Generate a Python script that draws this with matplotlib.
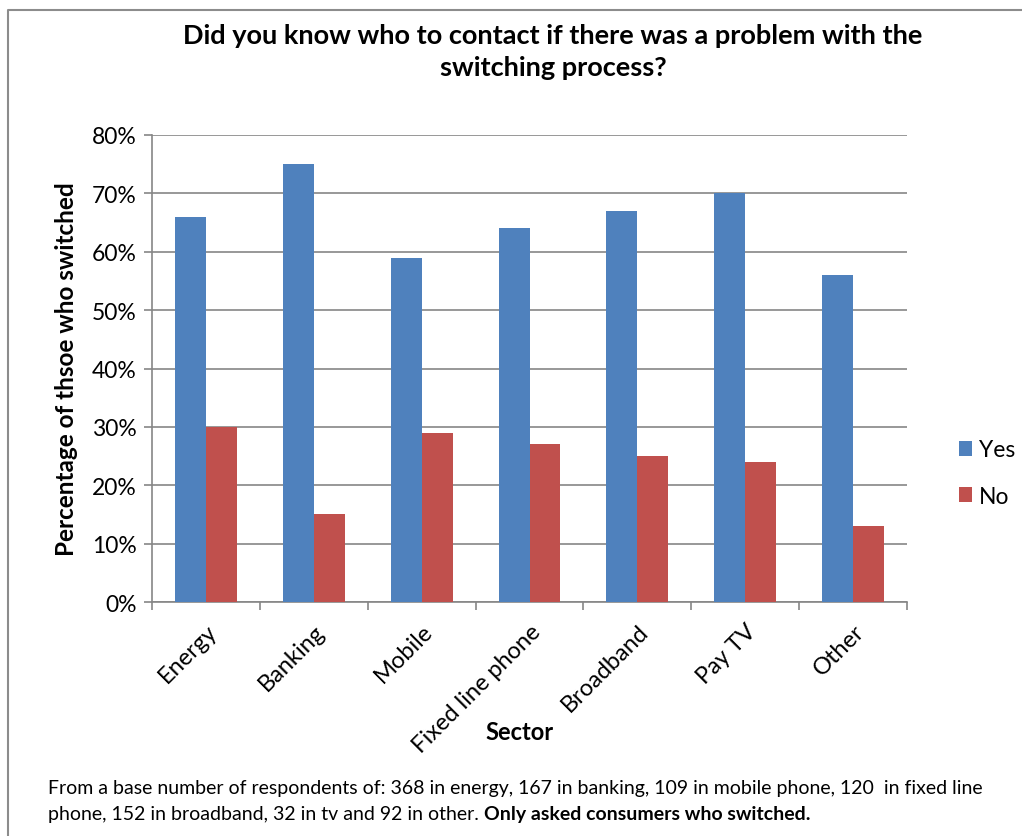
import numpy as np
import matplotlib.pyplot as plt
from matplotlib.lines import Line2D
from matplotlib.ticker import FixedLocator, PercentFormatter

plt.rcParams['font.family'] = ['Lato', 'DejaVu Sans']

sectors = ["Energy", "Banking", "Mobile", "Fixed line phone", "Broadband", "Pay TV", "Other"]
yes = [66, 75, 59, 64, 67, 70, 56]
no = [30, 15, 29, 27, 25, 24, 13]

blue = "#4F81BD"
red = "#C0504D"
grid = "#868686"

fig = plt.figure(figsize=(10.22, 8.37), dpi=100)
W, H = 1022, 837
ax = fig.add_axes([152 / W, 1 - 603 / H, (907 - 152) / W, (603 - 136) / H])

x = np.arange(len(sectors))
w = 0.287
ax.bar(x - w / 2, yes, w, color=blue, label="Yes", zorder=3)
ax.bar(x + w / 2, no, w, color=red, label="No", zorder=3)

ax.set_xlim(-0.5, len(sectors) - 0.5)
ax.set_ylim(0, 80)
ax.yaxis.set_major_locator(FixedLocator(np.arange(0, 81, 10)))
ax.yaxis.set_major_formatter(PercentFormatter(decimals=0))
ax.grid(axis="y", color=grid, linewidth=1.2, zorder=0)

ax.set_xticks(x)
ax.set_xticklabels(sectors, rotation=45, ha="right", rotation_mode="anchor", fontsize=17)
ax.tick_params(axis="x", which="major", length=0, pad=13)
ax.set_xticks(np.arange(-0.5, len(sectors)), minor=True)
ax.tick_params(axis="x", which="minor", length=6, color=grid, width=1.2)
ax.tick_params(axis="y", length=6, color=grid, width=1.2, labelsize=16.5, pad=5)

for s in ["top", "right"]:
    ax.spines[s].set_visible(False)
for s in ["left", "bottom"]:
    ax.spines[s].set_color(grid)
    ax.spines[s].set_linewidth(1.2)

ax.set_ylabel("Percentage of thsoe who switched", fontsize=17.5, fontweight="bold", labelpad=10)
fig.text(520 / W, 1 - 733 / H, "Sector", fontsize=17, fontweight="bold", ha="center", va="center")

fig.text(553 / W, 1 - 52 / H,
         "Did you know who to contact if there was a problem with the\nswitching process?",
         fontsize=19.5, fontweight="bold", ha="center", va="center", linespacing=1.35)

ax.legend(loc="center left", bbox_to_anchor=(938 / W, 1 - 474 / H), bbox_transform=fig.transFigure,
          frameon=False, fontsize=16.5, handlelength=0.6, handleheight=0.6, handletextpad=0.3,
          labelspacing=1.1)

fig.text(48 / W, 1 - 789 / H,
         "From a base number of respondents of: 368 in energy, 167 in banking, 109 in mobile phone, 120  in fixed line",
         fontsize=14, va="center", ha="left")
t2 = fig.text(48 / W, 1 - 815 / H,
              "phone, 152 in broadband, 32 in tv and 92 in other. ",
              fontsize=14, va="center", ha="left")
ax.annotate("Only asked consumers who switched.", xy=(1, 0.5), xycoords=t2,
            fontsize=14, fontweight="bold", va="center", ha="left")

fig.add_artist(Line2D([8 / W, 8 / W, 1], [0, 1 - 11 / H, 1 - 11 / H],
                      transform=fig.transFigure, color="#8c8c8c", linewidth=1.5))

fig.savefig("out.png", dpi=100)
